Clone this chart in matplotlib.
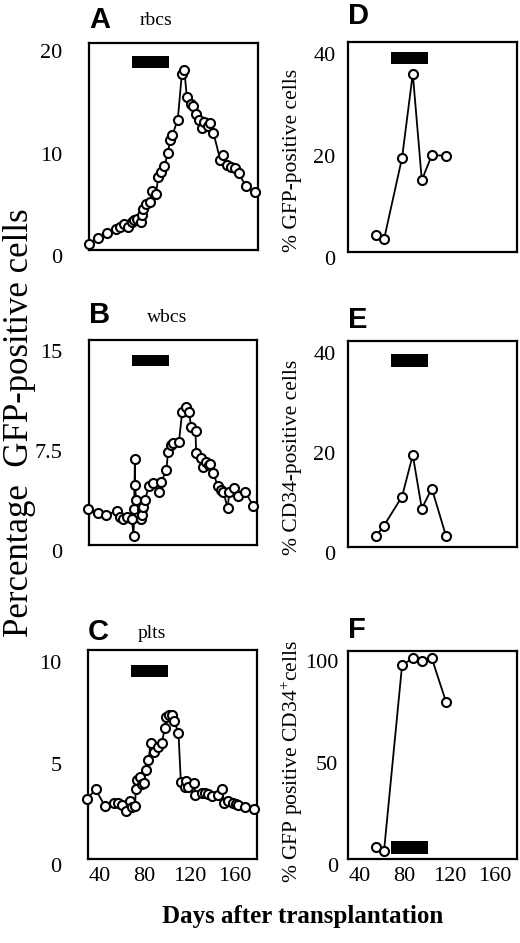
import matplotlib
matplotlib.use("Agg")
import matplotlib.pyplot as plt
import matplotlib.transforms as mtrans

plt.rcParams['font.family'] = ['Liberation Serif', 'DejaVu Serif']
plt.rcParams['mathtext.fontset'] = 'custom'
plt.rcParams['mathtext.rm'] = 'Liberation Serif'

# treatment period (black bar), days
treat = [68, 101]

# panel A: rbcs
days_a = [30, 37.7, 45.7, 53.7, 57.6, 61.4, 65, 68, 70.3, 72.4, 76.2, 77.4, 78.3, 80.4, 84.2,
          85.7, 89.3, 91.6, 94, 97, 99.9, 102, 104, 108.8, 112.4, 114.7, 116.8, 120.7, 122.7,
          124.8, 127.8, 130.1, 132.5, 135.5, 137.6, 140.5, 146.4, 148.5, 152.4, 156.2, 159.2,
          162.7, 169.3, 177.6]
rbcs = [0.6, 1.14, 1.69, 2.02, 2.28, 2.52, 2.28, 2.77, 2.92, 3.02, 2.77, 3.42, 3.97, 4.52, 4.72,
        5.72, 5.47, 7.12, 7.62, 8.22, 9.42, 10.72, 11.22, 12.72, 17.17, 17.52, 14.92, 14.22, 14.02,
        13.27, 12.72, 11.87, 12.52, 12.12, 12.37, 11.42, 8.82, 9.27, 8.32, 8.12, 7.97,
        7.52, 6.22, 5.62]

# panel B: wbcs
days_b = [29.4, 38.3, 45.1, 54.6, 57.6, 60.5, 64.0, 68.3, 69.8, 70.3, 71.0, 71.2, 72.0, 76.5,
          77.4, 77.7, 78.2, 79.8, 83.6, 87.1, 92.5, 94.6, 99.1, 100.5, 102.9, 105, 110.3, 113.2,
          116.2, 119.2, 121.3, 125.1, 125.7, 130.2, 132.2, 134.6, 136.9, 138.2, 141.1, 145,
          147.9, 150, 153.8, 155.3, 159.8, 162.7, 169.6, 176.7]
wbcs = [2.68, 2.42, 2.25, 2.55, 2.12, 1.93, 2.08, 1.93, 0.68, 2.7, 6.45, 4.5, 3.4, 1.93,
        2.68, 2.25, 2.82, 3.4, 4.4, 4.65, 3.95, 4.77, 5.6, 7.0, 7.5, 7.63, 7.75, 10.0,
        10.37, 10.0, 8.85, 8.55, 6.9, 6.5, 5.85, 6.25, 6.0, 6.1, 5.4, 4.4,
        4.12, 4.0, 2.75, 4.0, 4.25, 3.68, 4.0, 2.9]

# panel C: plts
days_c = [28.8, 36.8, 45.1, 53.1, 57, 60.5, 63.5, 67.3, 69.4, 71.8, 72.4, 73.8, 76, 78.3, 79.8,
          81.3, 83.6, 85.7, 88.7, 92.5, 95.5, 98.4, 99.6, 102, 104.4, 106.4, 110.3, 112.4, 116.2,
          117.4, 119.2, 124.2, 125.1, 131.1, 134, 136.9, 139.9, 145.8, 148.8, 150.9, 154.7,
          158.3, 161.3, 162.7, 169.6, 177.6]
plts = [2.94, 3.43, 2.6, 2.77, 2.74, 2.66, 2.38, 2.87, 2.57, 2.6, 3.43, 3.89, 4.02, 3.69, 3.76,
        4.38, 4.87, 5.73, 5.28, 5.53, 5.73, 6.48, 7.0, 7.09, 7.09, 6.8, 6.22, 3.8, 3.56,
        3.85, 3.56, 3.73, 3.15, 3.26, 3.23, 3.2, 3.1, 3.15, 3.43, 2.77, 2.87,
        2.74, 2.7, 2.66, 2.54, 2.44]

# panels D-F: bone marrow samples
days_bm = [55, 62, 78, 87.5, 95.5, 104.4, 117]
gfp_bm = [3.3, 2.5, 18.5, 35.0, 14.1, 19.0, 18.9]
cd34_bm = [2.2, 4.3, 10.1, 18.4, 7.7, 11.7, 2.2]
gfp_cd34 = [5.7, 4.1, 95.1, 98.4, 97.2, 98.4, 77.1]

W, H = 520, 943
fig = plt.figure(figsize=(W / 100, H / 100), dpi=100)


def px_axes(l, t, r, b):
    return fig.add_axes([l / W, 1 - b / H, (r - l) / W, (b - t) / H])


def style(ax, ylim, yticks, yticklabels, pad, xlabels=False):
    ax.set_xlim(30, 180)
    ax.set_ylim(*ylim)
    ax.set_yticks(yticks)
    ax.set_yticklabels(yticklabels)
    ax.set_xticks([40, 80, 120, 160])
    if not xlabels:
        ax.set_xticklabels([])
    ax.tick_params(length=0, labelsize=16, pad=pad)
    ax.tick_params(axis='x', pad=6)
    for s in ax.spines.values():
        s.set_linewidth(1.6)
    # labels sit a little low in the original
    off = mtrans.ScaledTranslation(0, -6 / 100, fig.dpi_scale_trans)
    for lab in ax.get_yticklabels():
        lab.set_transform(lab.get_transform() + off)


def series(ax, x, y):
    ax.plot(x, y, '-o', color='black', lw=1.3, ms=6.5, mfc='white', mec='black', mew=1.5,
            clip_on=False, zorder=3)


def tag(ax, letter, dy, title=None, tdx=0, tdy=0):
    ax.annotate(letter, xy=(0, 1), xycoords='axes fraction', xytext=(0, dy),
                textcoords='offset pixels', ha='left', va='center', fontsize=21,
                fontweight='bold', family=['Liberation Sans', 'DejaVu Sans'])
    if title:
        ax.annotate(title, xy=(0, 1), xycoords='axes fraction', xytext=(tdx, tdy),
                    textcoords='offset pixels', ha='left', va='center', fontsize=14)


ax_a = px_axes(89, 43, 258, 250)
series(ax_a, days_a, rbcs)
ax_a.axvspan(treat[0], treat[1], 0.879, 0.937, color='black', lw=0)
style(ax_a, (0, 20.2), [0, 10, 20], ['0', '10', '20'], 19)
tag(ax_a, 'A', 23, 'rbcs', 51, 23)

ax_b = px_axes(89, 340, 257, 545)
series(ax_b, days_b, wbcs)
ax_b.axvspan(treat[0], treat[1], 0.873, 0.927, color='black', lw=0)
style(ax_b, (0, 15.4), [0, 7.5, 15], ['0', '7.5', '15'], 19)
tag(ax_b, 'B', 25, 'wbcs', 58, 22)

ax_c = px_axes(88, 650, 257, 859)
series(ax_c, days_c, plts)
ax_c.axvspan(treat[0], treat[1], 0.871, 0.928, color='black', lw=0)
style(ax_c, (0, 10.3), [0, 5, 10], ['0', '5', '10'], 19, xlabels=True)
tag(ax_c, 'C', 18, 'plts', 50, 16)

ax_d = px_axes(348, 42, 517, 252)
series(ax_d, days_bm, gfp_bm)
ax_d.axvspan(treat[0], treat[1], 0.895, 0.952, color='black', lw=0)
style(ax_d, (0, 41.2), [0, 20, 40], ['0', '20', '40'], 9)
tag(ax_d, 'D', 26)

ax_e = px_axes(348, 341, 517, 547)
series(ax_e, days_bm, cd34_bm)
ax_e.axvspan(treat[0], treat[1], 0.874, 0.937, color='black', lw=0)
style(ax_e, (0, 41.2), [0, 20, 40], ['0', '20', '40'], 9)
tag(ax_e, 'E', 21)

ax_f = px_axes(348, 651, 517, 859)
series(ax_f, days_bm, gfp_cd34)
ax_f.axvspan(treat[0], treat[1], 0.024, 0.087, color='black', lw=0)
style(ax_f, (0, 102), [0, 50, 100], ['0', '50', '100'], 7, xlabels=True)
tag(ax_f, 'F', 21)

fig.text(20 / W, 1 - 423 / H, 'Percentage  GFP-positive cells', rotation=90,
         ha='center', va='center', fontsize=25)
fig.text(292 / W, 1 - 160 / H, '% GFP-positive cells', rotation=90,
         ha='center', va='center', fontsize=15.5)
fig.text(292 / W, 1 - 457 / H, '% CD34-positive cells', rotation=90,
         ha='center', va='center', fontsize=15.5)
fig.text(292 / W, 1 - 762 / H, '% GFP positive CD34$^{+}$cells', rotation=90,
         ha='center', va='center', fontsize=15.5)
fig.text(303 / W, 1 - 917 / H, 'Days after transplantation', ha='center', va='center',
         fontsize=18, fontweight='bold')

fig.savefig('out.png', dpi=100, facecolor='white')
